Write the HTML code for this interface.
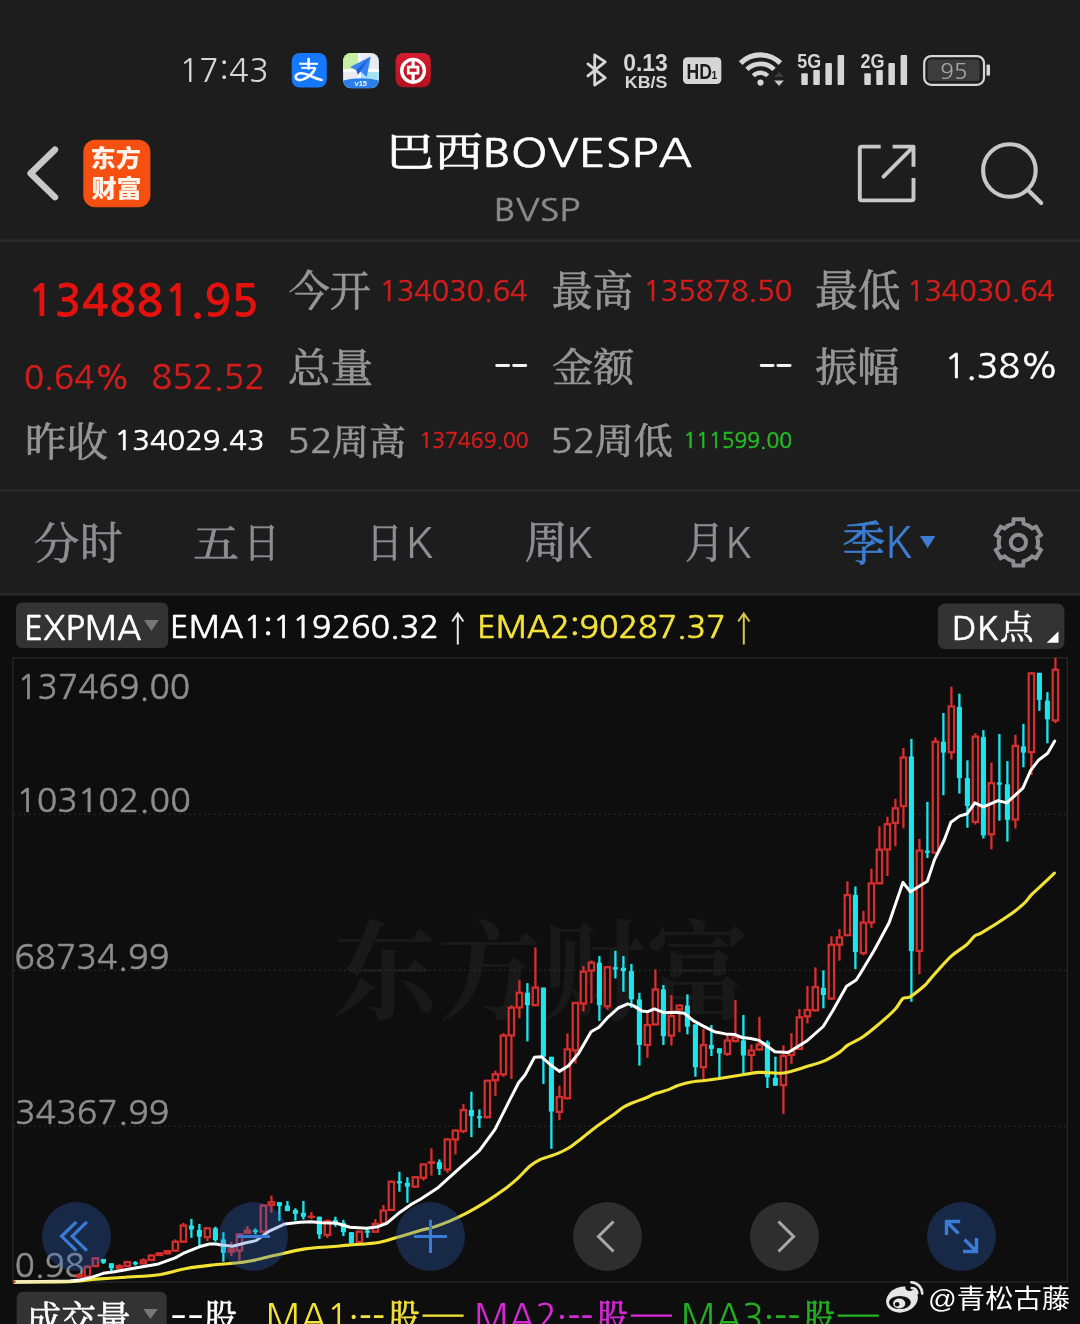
<!DOCTYPE html>
<html><head><meta charset="utf-8"><title>BOVESPA</title>
<style>html,body{margin:0;padding:0;background:#1d1d1d;width:1080px;height:1324px;overflow:hidden}svg{display:block}</style>
</head><body>
<svg width="1080" height="1324" viewBox="0 0 1080 1324">
<rect x="0" y="0" width="1080" height="595" fill="#1d1d1d"/>
<rect x="0" y="595" width="1080" height="729" fill="#0e0e0e"/>
<rect x="0" y="239.5" width="1080" height="2" fill="#2c2c2c"/>
<rect x="0" y="489.5" width="1080" height="2" fill="#2c2c2c"/>
<rect x="0" y="593.5" width="1080" height="2" fill="#2c2c2c"/>
<text transform="matrix(1.0340 0 0 1 179.14 82.18)" font-size="31.82" font-family='"NanumGothic","Liberation Sans",sans-serif' font-weight="400" fill="#d6d6d6">17:43</text>
<rect x="291.75" y="53" width="35" height="34.5" rx="8" fill="#1677ff"/>
<g fill="none" stroke="#f4faff" stroke-linecap="butt"><path d="M299.1 63.8 H318" stroke-width="2.1"/><path d="M308.6 59.1 V68.6" stroke-width="2.7" stroke-linecap="round"/><path d="M301.2 67.9 H315.4" stroke-width="2.0"/><path d="M315 68.6 C313 73 309 77 303 79.4 C298 81.3 294.6 79 296 75.6 C297.6 72.6 303 72.6 307.6 74.6 C312 76.6 316 78.8 321.6 80" stroke-width="2.6" stroke-linecap="round"/></g>
<defs><clipPath id="mapc"><rect x="343.1" y="52.9" width="35.8" height="35.4" rx="8"/></clipPath></defs>
<g clip-path="url(#mapc)"><rect x="343" y="52.9" width="36" height="35.5" fill="#e9ebf2"/><rect x="343" y="52.9" width="14.9" height="16.1" fill="#c6efa2"/><rect x="360.6" y="71.8" width="18.4" height="8" fill="#a6e2f4"/><rect x="357.9" y="52.9" width="2.7" height="30" fill="#fbfdff"/><rect x="343" y="69" width="36" height="2.8" fill="#fbfdff"/><path d="M343 80.5 Q361 76 379 80.5 V89 H343 Z" fill="#2b7fe9"/><path d="M370.7 56.6 L350.1 67.1 L356.4 70.2 L357.9 74.6 L360.6 71.6 L366.8 77.1 Z" fill="#3584f2"/><path d="M370.7 56.6 L356.4 70.2 L357.9 74.6 Z" fill="#1f5fd4"/></g>
<text x="360.8" y="85.9" font-size="7.5" font-family="Liberation Sans" font-weight="700" fill="#eef6ff" text-anchor="middle">v15</text>
<defs><linearGradient id="bg1" x1="0" y1="0" x2="0" y2="1"><stop offset="0" stop-color="#d41e2e"/><stop offset="1" stop-color="#b5101f"/></linearGradient></defs>
<rect x="395.6" y="53" width="35.2" height="34.3" rx="8" fill="url(#bg1)"/>
<circle cx="413.05" cy="70.75" r="11.35" fill="none" stroke="#fff" stroke-width="3.4"/>
<rect x="411.5" y="58" width="3.2" height="25.5" fill="#fff"/>
<rect x="408.25" y="67.05" width="9.7" height="6.1" fill="#c41828" stroke="#fff" stroke-width="2.7"/>
<path d="M587.9 63.9 L605.2 77.8 L594.7 85 V54.8 L605.2 61.9 L587.9 75.9" fill="none" stroke="#d6d6d6" stroke-width="2.8" stroke-linecap="round" stroke-linejoin="round"/>
<text transform="matrix(0.9393 0 0 1 623.18 71.16)" font-size="24.37" font-family='"Liberation Sans","Noto Sans CJK SC",sans-serif' font-weight="700" fill="#d6d6d6">0.13</text>
<text transform="matrix(1.0542 0 0 1 624.85 87.63)" font-size="16.89" font-family='"Liberation Sans","Noto Sans CJK SC",sans-serif' font-weight="700" fill="#d6d6d6">KB/S</text>
<rect x="683" y="57.2" width="38.3" height="26.9" rx="4.5" fill="#d6d6d6"/>
<text transform="matrix(0.7935 0 0 1 686.57 78.60)" font-size="22.17" font-family='"Liberation Sans","Noto Sans CJK SC",sans-serif' font-weight="700" fill="#1d1d1d">HD</text>
<text transform="matrix(0.8809 0 0 1 711.59 78.60)" font-size="11.59" font-family='"Liberation Sans","Noto Sans CJK SC",sans-serif' font-weight="700" fill="#1d1d1d">1</text>
<path d="M740.63 63.13 A28.1 28.1 0 0 1 780.37 63.13" fill="none" stroke="#d6d6d6" stroke-width="5.1"/>
<path d="M746.92 69.42 A19.2 19.2 0 0 1 774.08 69.42" fill="none" stroke="#d6d6d6" stroke-width="4.7"/>
<path d="M753.29 75.79 A10.2 10.2 0 0 1 767.71 75.79" fill="none" stroke="#d6d6d6" stroke-width="4.4"/>
<circle cx="760.5" cy="82.6" r="3.1" fill="#d6d6d6"/>
<path d="M774.2 77 L783.9 77 L779.05 71.9 Z" fill="#3c3c3c"/><path d="M774.2 80.6 L783.9 80.6 L779.05 85.9 Z" fill="#c8c8c8"/>
<text transform="matrix(0.8589 0 0 1 797.26 67.79)" font-size="20.85" font-family='"Liberation Sans","Noto Sans CJK SC",sans-serif' font-weight="700" fill="#d6d6d6">5G</text>
<rect x="801.3" y="73.2" width="6.5" height="11.799999999999997" rx="1" fill="#d6d6d6"/>
<rect x="813.3" y="69.9" width="6.5" height="15.099999999999994" rx="1" fill="#d6d6d6"/>
<rect x="825.4" y="62.9" width="6.5" height="22.1" rx="1" fill="#d6d6d6"/>
<rect x="837.5999999999999" y="55.1" width="6.5" height="29.9" rx="1" fill="#d6d6d6"/>
<text transform="matrix(0.8627 0 0 1 860.46 67.79)" font-size="20.85" font-family='"Liberation Sans","Noto Sans CJK SC",sans-serif' font-weight="700" fill="#d6d6d6">2G</text>
<rect x="864.3" y="73.2" width="6.5" height="11.799999999999997" rx="1" fill="#d6d6d6"/>
<rect x="876.3" y="69.9" width="6.5" height="15.099999999999994" rx="1" fill="#d6d6d6"/>
<rect x="888.4" y="62.9" width="6.5" height="22.1" rx="1" fill="#d6d6d6"/>
<rect x="900.5999999999999" y="55.1" width="6.5" height="29.9" rx="1" fill="#d6d6d6"/>
<rect x="924.2" y="56.1" width="59.8" height="28.7" rx="7" fill="none" stroke="#d6d6d6" stroke-width="2.2"/>
<rect x="927.7" y="59.6" width="51.9" height="21.4" rx="3" fill="#3c3c3c"/>
<rect x="986.5" y="64.4" width="3.5" height="11.3" rx="1.2" fill="#d6d6d6"/>
<text transform="matrix(1.0191 0 0 1 940.35 78.78)" font-size="22.08" font-family='"NanumGothic","Liberation Sans",sans-serif' font-weight="400" fill="#a8a8a8">95</text>
<path d="M55 149.6 L30.6 173.4 L55 197.2" fill="none" stroke="#c8c8c8" stroke-width="6.4" stroke-linecap="round" stroke-linejoin="round"/>
<rect x="83.3" y="139.8" width="67.1" height="67.4" rx="12" fill="#f64f12"/>
<text transform="matrix(1.0811 0 0 1 90.48 167.06)" font-size="23.37" font-family='"Liberation Sans","Noto Sans CJK SC",sans-serif' font-weight="900" fill="#fff4ea">东方</text>
<text transform="matrix(1.0599 0 0 1 91.50 196.63)" font-size="23.71" font-family='"Liberation Sans","Noto Sans CJK SC",sans-serif' font-weight="900" fill="#fff4ea">财富</text>
<text transform="matrix(1.2311 0 0 1 386.11 165.75)" font-size="39.33" font-family='"Liberation Sans","Noto Serif CJK SC",serif' font-weight="400" fill="#ffffff" stroke="#ffffff" stroke-width="0.7" stroke-linejoin="round">巴西</text>
<text transform="matrix(1.1731 0 0 1 482.49 166.60)" font-size="39.87" font-family='"NanumGothic","Liberation Sans",sans-serif' font-weight="400" fill="#ffffff" stroke="#ffffff" stroke-width="0.6">BOVESPA</text>
<text transform="matrix(1.1889 0 0 1 493.75 220.69)" font-size="30.38" font-family='"NanumGothic","Liberation Sans",sans-serif' font-weight="400" fill="#8a8a8a" stroke="#8a8a8a" stroke-width="0.5">BVSP</text>
<g fill="none" stroke="#c8c8c8" stroke-width="3.9" stroke-linejoin="round"><path d="M880.7 146.6 H861.6 Q859.8 146.6 859.8 148.4 V198.6 Q859.8 200.4 861.6 200.4 H911.7 Q913.5 200.4 913.5 198.6 V177.9"/><path d="M892.6 146.6 H913.5 V166.7"/><path d="M883.5 176.6 L912.5 147.6" stroke-linecap="round"/></g>
<circle cx="1009.4" cy="170.5" r="26.3" fill="none" stroke="#c8c8c8" stroke-width="4.1"/>
<path d="M1029.2 191.2 L1041.2 203" stroke="#c8c8c8" stroke-width="4.2" stroke-linecap="round"/>
<text transform="matrix(1.0089 0 0 1 27.36 316.38)" font-size="44.52" font-family='"NanumGothic","Liberation Sans",sans-serif' font-weight="700" fill="#e3120f">134881.95</text>
<text transform="matrix(1.0030 0 0 1 24.01 389.15)" font-size="33.01" font-family='"NanumGothic","Liberation Sans",sans-serif' font-weight="400" fill="#d51c1c" stroke="#d51c1c" stroke-width="0.6">0.64%</text>
<text transform="matrix(1.0077 0 0 1 151.55 389.11)" font-size="33.83" font-family='"NanumGothic","Liberation Sans",sans-serif' font-weight="400" fill="#d51c1c" stroke="#d51c1c" stroke-width="0.6">852.52</text>
<text transform="matrix(1.0558 0 0 1 25.09 455.86)" font-size="39.24" font-family='"Liberation Sans","Noto Serif CJK SC",serif' font-weight="400" fill="#969696" stroke="#969696" stroke-width="0.7" stroke-linejoin="round">昨收</text>
<text transform="matrix(1.0532 0 0 1 114.62 450.42)" font-size="27.65" font-family='"NanumGothic","Liberation Sans",sans-serif' font-weight="400" fill="#ffffff" stroke="#ffffff" stroke-width="0.6">134029.43</text>
<text transform="matrix(0.9789 0 0 1 288.77 306.05)" font-size="41.91" font-family='"Liberation Sans","Noto Serif CJK SC",serif' font-weight="400" fill="#969696" stroke="#969696" stroke-width="0.7" stroke-linejoin="round">今开</text>
<text transform="matrix(1.0216 0 0 1 379.47 300.69)" font-size="28.15" font-family='"NanumGothic","Liberation Sans",sans-serif' font-weight="400" fill="#d51c1c" stroke="#d51c1c" stroke-width="0.6">134030.64</text>
<text transform="matrix(1.0628 0 0 1 287.87 381.59)" font-size="40.11" font-family='"Liberation Sans","Noto Serif CJK SC",serif' font-weight="400" fill="#969696" stroke="#969696" stroke-width="0.7" stroke-linejoin="round">总量</text>
<text transform="matrix(1.0967 0 0 1 287.03 453.46)" font-size="34.42" font-family='"NanumGothic","Liberation Sans",sans-serif' font-weight="400" fill="#969696" stroke="#969696" stroke-width="0.5">52</text>
<text transform="matrix(1.0201 0 0 1 331.92 454.50)" font-size="36.24" font-family='"Liberation Sans","Noto Serif CJK SC",serif' font-weight="400" fill="#969696" stroke="#969696" stroke-width="0.7" stroke-linejoin="round">周高</text>
<text transform="matrix(1.0087 0 0 1 419.54 447.95)" font-size="20.99" font-family='"NanumGothic","Liberation Sans",sans-serif' font-weight="400" fill="#d51c1c" stroke="#d51c1c" stroke-width="0.6">137469.00</text>
<text transform="matrix(0.9615 0 0 1 551.77 306.01)" font-size="42.37" font-family='"Liberation Sans","Noto Serif CJK SC",serif' font-weight="400" fill="#969696" stroke="#969696" stroke-width="0.7" stroke-linejoin="round">最高</text>
<text transform="matrix(1.0293 0 0 1 643.24 300.69)" font-size="28.15" font-family='"NanumGothic","Liberation Sans",sans-serif' font-weight="400" fill="#d51c1c" stroke="#d51c1c" stroke-width="0.6">135878.50</text>
<text transform="matrix(1.0557 0 0 1 552.17 380.89)" font-size="38.82" font-family='"Liberation Sans","Noto Serif CJK SC",serif' font-weight="400" fill="#969696" stroke="#969696" stroke-width="0.7" stroke-linejoin="round">金额</text>
<text transform="matrix(1.0967 0 0 1 549.93 453.46)" font-size="34.42" font-family='"NanumGothic","Liberation Sans",sans-serif' font-weight="400" fill="#969696" stroke="#969696" stroke-width="0.5">52</text>
<text transform="matrix(1.0678 0 0 1 594.74 454.47)" font-size="36.63" font-family='"Liberation Sans","Noto Serif CJK SC",serif' font-weight="400" fill="#969696" stroke="#969696" stroke-width="0.7" stroke-linejoin="round">周低</text>
<text transform="matrix(1.0039 0 0 1 683.55 447.95)" font-size="20.99" font-family='"NanumGothic","Liberation Sans",sans-serif' font-weight="400" fill="#22bb22" stroke="#22bb22" stroke-width="0.6">111599.00</text>
<text transform="matrix(1.0009 0 0 1 814.89 305.97)" font-size="42.83" font-family='"Liberation Sans","Noto Serif CJK SC",serif' font-weight="400" fill="#969696" stroke="#969696" stroke-width="0.7" stroke-linejoin="round">最低</text>
<text transform="matrix(1.0216 0 0 1 906.97 300.69)" font-size="28.15" font-family='"NanumGothic","Liberation Sans",sans-serif' font-weight="400" fill="#d51c1c" stroke="#d51c1c" stroke-width="0.6">134030.64</text>
<text transform="matrix(1.0709 0 0 1 815.34 380.86)" font-size="39.24" font-family='"Liberation Sans","Noto Serif CJK SC",serif' font-weight="400" fill="#969696" stroke="#969696" stroke-width="0.7" stroke-linejoin="round">振幅</text>
<text transform="matrix(1.0345 0 0 1 944.41 377.88)" font-size="34.46" font-family='"NanumGothic","Liberation Sans",sans-serif' font-weight="400" fill="#ffffff" stroke="#ffffff" stroke-width="0.6">1.38%</text>
<rect x="495.3" y="363.9" width="14.7" height="3" rx="1.4" fill="#f4f4f4"/><rect x="512.2" y="363.9" width="15" height="3" rx="1.4" fill="#f4f4f4"/>
<rect x="759.8" y="363.9" width="14.7" height="3" rx="1.4" fill="#f4f4f4"/><rect x="776.5" y="363.9" width="15" height="3" rx="1.4" fill="#f4f4f4"/>
<text transform="matrix(1.0586 0 0 1 33.63 558.76)" font-size="43.01" font-family='"Liberation Sans","Noto Serif CJK SC",serif' font-weight="400" fill="#8e8e92" stroke="#8e8e92" stroke-width="0.7" stroke-linejoin="round">分</text>
<text transform="matrix(0.9713 0 0 1 79.88 558.68)" font-size="43.96" font-family='"Liberation Sans","Noto Serif CJK SC",serif' font-weight="400" fill="#8e8e92" stroke="#8e8e92" stroke-width="0.7" stroke-linejoin="round">时</text>
<text transform="matrix(1.1776 0 0 1 193.06 557.32)" font-size="39.14" font-family='"Liberation Sans","Noto Serif CJK SC",serif' font-weight="400" fill="#8e8e92" stroke="#8e8e92" stroke-width="0.7" stroke-linejoin="round">五</text>
<text transform="matrix(0.8816 0 0 1 243.84 556.56)" font-size="40.59" font-family='"Liberation Sans","Noto Serif CJK SC",serif' font-weight="400" fill="#8e8e92" stroke="#8e8e92" stroke-width="0.7" stroke-linejoin="round">日</text>
<text transform="matrix(0.8816 0 0 1 366.64 556.56)" font-size="40.59" font-family='"Liberation Sans","Noto Serif CJK SC",serif' font-weight="400" fill="#8e8e92" stroke="#8e8e92" stroke-width="0.7" stroke-linejoin="round">日</text>
<text transform="matrix(1.0735 0 0 1 404.97 557.70)" font-size="41.73" font-family='"NanumGothic","Liberation Sans",sans-serif' font-weight="400" fill="#8e8e92">K</text>
<text transform="matrix(0.9510 0 0 1 524.70 558.22)" font-size="44.72" font-family='"Liberation Sans","Noto Serif CJK SC",serif' font-weight="400" fill="#8e8e92" stroke="#8e8e92" stroke-width="0.7" stroke-linejoin="round">周</text>
<text transform="matrix(1.0351 0 0 1 565.45 557.70)" font-size="41.73" font-family='"NanumGothic","Liberation Sans",sans-serif' font-weight="400" fill="#8e8e92">K</text>
<text transform="matrix(0.9053 0 0 1 684.92 558.00)" font-size="43.75" font-family='"Liberation Sans","Noto Serif CJK SC",serif' font-weight="400" fill="#8e8e92" stroke="#8e8e92" stroke-width="0.7" stroke-linejoin="round">月</text>
<text transform="matrix(1.0160 0 0 1 724.84 557.70)" font-size="41.73" font-family='"NanumGothic","Liberation Sans",sans-serif' font-weight="400" fill="#8e8e92">K</text>
<text transform="matrix(0.9168 0 0 1 842.62 559.59)" font-size="46.41" font-family='"Liberation Sans","Noto Serif CJK SC",serif' font-weight="400" fill="#3c7dd2" stroke="#3c7dd2" stroke-width="0.7" stroke-linejoin="round">季</text>
<text transform="matrix(1.0109 0 0 1 884.63 557.80)" font-size="42.93" font-family='"NanumGothic","Liberation Sans",sans-serif' font-weight="400" fill="#3c7dd2">K</text>
<path d="M920 536.1 L935.3 536.1 L927.65 548.3 Z" fill="#3c7dd2"/>
<path d="M1013.16 523.51 L1013.67 519.18 L1023.13 519.18 L1023.64 523.51 A19.6 19.6 0 0 1 1032.14 528.42 L1036.15 526.70 L1040.88 534.88 L1037.38 537.49 A19.6 19.6 0 0 1 1037.38 547.31 L1040.88 549.92 L1036.15 558.10 L1032.14 556.38 A19.6 19.6 0 0 1 1023.64 561.29 L1023.13 565.62 L1013.67 565.62 L1013.16 561.29 A19.6 19.6 0 0 1 1004.66 556.38 L1000.65 558.10 L995.92 549.92 L999.42 547.31 A19.6 19.6 0 0 1 999.42 537.49 L995.92 534.88 L1000.65 526.70 L1004.66 528.42 A19.6 19.6 0 0 1 1013.16 523.51 Z" fill="none" stroke="#8e8e92" stroke-width="4"/>
<circle cx="1018.4" cy="542.4" r="7.6" fill="none" stroke="#8e8e92" stroke-width="4"/>
<rect x="16" y="602.4" width="152.2" height="45.6" rx="6.3" fill="#333333"/>
<text transform="matrix(0.9947 0 0 1 23.96 639.70)" font-size="33.60" font-family='"NanumGothic","Liberation Sans",sans-serif' font-weight="400" fill="#ffffff" stroke="#ffffff" stroke-width="0.6">EXPMA</text>
<path d="M144.1 620 L158.7 620 L151.4 631 Z" fill="#777"/>
<text transform="matrix(1.0630 0 0 1 170.07 637.88)" font-size="30.37" font-family='"NanumGothic","Liberation Sans",sans-serif' font-weight="400" fill="#ffffff" stroke="#ffffff" stroke-width="0.6">EMA1:119260.32</text>
<path d="M457.8 613.5 V644.4 M452.2 621.5 L457.8 613.4 L463.4 621.5" fill="none" stroke="#e8e8e8" stroke-width="2"/>
<text transform="matrix(1.0593 0 0 1 477.18 637.88)" font-size="30.37" font-family='"NanumGothic","Liberation Sans",sans-serif' font-weight="400" fill="#f3e23a" stroke="#f3e23a" stroke-width="0.6">EMA2:90287.37</text>
<path d="M743.8 613.5 V644.4 M738.2 621.5 L743.8 613.4 L749.4 621.5" fill="none" stroke="#d8c850" stroke-width="2"/>
<rect x="937.8" y="603.6" width="126.6" height="45.5" rx="7" fill="#333333"/>
<text transform="matrix(1.0407 0 0 1 951.87 639.70)" font-size="32.93" font-family='"NanumGothic","Liberation Sans",sans-serif' font-weight="400" fill="#ffffff" stroke="#ffffff" stroke-width="0.6">DK</text>
<text transform="matrix(1.0311 0 0 1 999.85 639.48)" font-size="32.72" font-family='"Liberation Sans","Noto Serif CJK SC",serif' font-weight="400" fill="#ffffff" stroke="#ffffff" stroke-width="0.7" stroke-linejoin="round">点</text>
<path d="M1058.5 631.3 L1058.5 642.7 L1046.7 642.7 Z" fill="#ffffff"/>
<rect x="12.9" y="657.9" width="1054.4" height="624.1" fill="none" stroke="#2a2a2a" stroke-width="1.2"/>
<text transform="matrix(0.9625 0 0 1 333.17 1011.38)" font-size="108.23" font-family='"Liberation Sans","Noto Serif CJK SC",serif' font-weight="700" fill="#191919">东方财富</text>
<line x1="14" y1="814.3" x2="1067" y2="814.3" stroke="#363636" stroke-width="1.1" stroke-dasharray="1.6 3.4"/>
<line x1="14" y1="970.2" x2="1067" y2="970.2" stroke="#363636" stroke-width="1.1" stroke-dasharray="1.6 3.4"/>
<line x1="14" y1="1126.3" x2="1067" y2="1126.3" stroke="#363636" stroke-width="1.1" stroke-dasharray="1.6 3.4"/>
<text transform="matrix(1.0039 0 0 1 17.20 698.73)" font-size="33.46" font-family='"NanumGothic","Liberation Sans",sans-serif' font-weight="400" fill="#8c8c8c" stroke="#8c8c8c" stroke-width="0.5">137469.00</text>
<text transform="matrix(1.0314 0 0 1 16.26 811.66)" font-size="32.84" font-family='"NanumGothic","Liberation Sans",sans-serif' font-weight="400" fill="#8c8c8c" stroke="#8c8c8c" stroke-width="0.5">103102.00</text>
<text transform="matrix(1.0280 0 0 1 14.31 968.54)" font-size="33.21" font-family='"NanumGothic","Liberation Sans",sans-serif' font-weight="400" fill="#8c8c8c" stroke="#8c8c8c" stroke-width="0.5">68734.99</text>
<text transform="matrix(1.0275 0 0 1 14.96 1124.45)" font-size="33.09" font-family='"NanumGothic","Liberation Sans",sans-serif' font-weight="400" fill="#8c8c8c" stroke="#8c8c8c" stroke-width="0.5">34367.99</text>
<text transform="matrix(1.0356 0 0 1 14.72 1276.71)" font-size="31.85" font-family='"NanumGothic","Liberation Sans",sans-serif' font-weight="400" fill="#8c8c8c" stroke="#8c8c8c" stroke-width="0.5">0.98</text>
<rect x="1054.25" y="657.8" width="2.3" height="65.3" fill="#d22f2f"/>
<rect x="1052.70" y="669.75" width="5.4" height="50.70" fill="#1c0b0b" stroke="#d22f2f" stroke-width="2.3"/>
<rect x="1046.25" y="692.2" width="2.3" height="51.1" fill="#1ce6ec"/>
<rect x="1044.85" y="700.70" width="5.1" height="18.60" fill="#1ce6ec"/>
<rect x="1038.25" y="672.8" width="2.3" height="38.0" fill="#1ce6ec"/>
<rect x="1036.85" y="672.80" width="5.1" height="27.10" fill="#1ce6ec"/>
<rect x="1030.25" y="672.3" width="2.3" height="102.7" fill="#d22f2f"/>
<rect x="1028.70" y="673.45" width="5.4" height="78.70" fill="#1c0b0b" stroke="#d22f2f" stroke-width="2.3"/>
<rect x="1022.25" y="723.9" width="2.3" height="43.4" fill="#1ce6ec"/>
<rect x="1020.85" y="746.40" width="5.1" height="6.20" fill="#1ce6ec"/>
<rect x="1014.25" y="734.8" width="2.3" height="93.7" fill="#d22f2f"/>
<rect x="1012.70" y="745.95" width="5.4" height="73.60" fill="#1c0b0b" stroke="#d22f2f" stroke-width="2.3"/>
<rect x="1006.25" y="761.1" width="2.3" height="80.5" fill="#1ce6ec"/>
<rect x="1004.85" y="784.30" width="5.1" height="35.60" fill="#1ce6ec"/>
<rect x="998.25" y="734.0" width="2.3" height="86.7" fill="#1ce6ec"/>
<rect x="996.85" y="782.50" width="5.1" height="2.20" fill="#1ce6ec"/>
<rect x="990.25" y="762.6" width="2.3" height="86.8" fill="#d22f2f"/>
<rect x="988.70" y="783.15" width="5.4" height="51.10" fill="#1c0b0b" stroke="#d22f2f" stroke-width="2.3"/>
<rect x="982.25" y="730.1" width="2.3" height="108.4" fill="#1ce6ec"/>
<rect x="980.85" y="737.10" width="5.1" height="98.30" fill="#1ce6ec"/>
<rect x="974.25" y="733.2" width="2.3" height="91.4" fill="#d22f2f"/>
<rect x="972.70" y="736.65" width="5.4" height="85.20" fill="#1c0b0b" stroke="#d22f2f" stroke-width="2.3"/>
<rect x="966.25" y="760.3" width="2.3" height="67.4" fill="#1ce6ec"/>
<rect x="964.85" y="778.10" width="5.1" height="27.90" fill="#1ce6ec"/>
<rect x="958.25" y="693.7" width="2.3" height="99.9" fill="#1ce6ec"/>
<rect x="956.85" y="706.90" width="5.1" height="71.20" fill="#1ce6ec"/>
<rect x="950.25" y="686.7" width="2.3" height="72.8" fill="#d22f2f"/>
<rect x="948.70" y="706.45" width="5.4" height="45.70" fill="#1c0b0b" stroke="#d22f2f" stroke-width="2.3"/>
<rect x="942.25" y="713.0" width="2.3" height="82.2" fill="#1ce6ec"/>
<rect x="940.85" y="741.70" width="5.1" height="10.90" fill="#1ce6ec"/>
<rect x="934.25" y="737.4" width="2.3" height="116.4" fill="#d22f2f"/>
<rect x="932.70" y="741.75" width="5.4" height="110.90" fill="#1c0b0b" stroke="#d22f2f" stroke-width="2.3"/>
<rect x="926.25" y="801.9" width="2.3" height="56.1" fill="#1ce6ec"/>
<rect x="924.85" y="850.60" width="5.1" height="2.20" fill="#1ce6ec"/>
<rect x="918.25" y="839.0" width="2.3" height="135.3" fill="#d22f2f"/>
<rect x="916.70" y="850.65" width="5.4" height="100.30" fill="#1c0b0b" stroke="#d22f2f" stroke-width="2.3"/>
<rect x="910.25" y="738.9" width="2.3" height="262.9" fill="#1ce6ec"/>
<rect x="908.85" y="756.40" width="5.1" height="194.70" fill="#1ce6ec"/>
<rect x="902.25" y="748.0" width="2.3" height="80.4" fill="#d22f2f"/>
<rect x="900.70" y="757.55" width="5.4" height="48.50" fill="#1c0b0b" stroke="#d22f2f" stroke-width="2.3"/>
<rect x="894.25" y="798.8" width="2.3" height="47.6" fill="#d22f2f"/>
<rect x="892.70" y="808.35" width="5.4" height="14.60" fill="#1c0b0b" stroke="#d22f2f" stroke-width="2.3"/>
<rect x="886.25" y="816.7" width="2.3" height="59.3" fill="#d22f2f"/>
<rect x="884.70" y="824.25" width="5.4" height="25.20" fill="#1c0b0b" stroke="#d22f2f" stroke-width="2.3"/>
<rect x="878.25" y="826.3" width="2.3" height="58.1" fill="#d22f2f"/>
<rect x="876.70" y="849.65" width="5.4" height="33.60" fill="#1c0b0b" stroke="#d22f2f" stroke-width="2.3"/>
<rect x="870.25" y="868.6" width="2.3" height="59.2" fill="#d22f2f"/>
<rect x="868.70" y="883.45" width="5.4" height="39.00" fill="#1c0b0b" stroke="#d22f2f" stroke-width="2.3"/>
<rect x="862.25" y="910.9" width="2.3" height="44.4" fill="#d22f2f"/>
<rect x="860.70" y="922.65" width="5.4" height="30.40" fill="#1c0b0b" stroke="#d22f2f" stroke-width="2.3"/>
<rect x="854.25" y="886.5" width="2.3" height="82.6" fill="#1ce6ec"/>
<rect x="852.85" y="895.00" width="5.1" height="57.10" fill="#1ce6ec"/>
<rect x="846.25" y="881.3" width="2.3" height="55.0" fill="#d22f2f"/>
<rect x="844.70" y="895.15" width="5.4" height="40.00" fill="#1c0b0b" stroke="#d22f2f" stroke-width="2.3"/>
<rect x="838.25" y="928.9" width="2.3" height="31.7" fill="#d22f2f"/>
<rect x="836.70" y="937.45" width="5.4" height="7.20" fill="#1c0b0b" stroke="#d22f2f" stroke-width="2.3"/>
<rect x="830.25" y="936.3" width="2.3" height="63.6" fill="#d22f2f"/>
<rect x="828.70" y="944.85" width="5.4" height="53.70" fill="#1c0b0b" stroke="#d22f2f" stroke-width="2.3"/>
<rect x="822.25" y="970.3" width="2.3" height="38.0" fill="#1ce6ec"/>
<rect x="820.85" y="987.80" width="5.1" height="7.20" fill="#1ce6ec"/>
<rect x="814.25" y="967.3" width="2.3" height="44.1" fill="#d22f2f"/>
<rect x="812.70" y="987.15" width="5.4" height="23.10" fill="#1c0b0b" stroke="#d22f2f" stroke-width="2.3"/>
<rect x="806.25" y="986.0" width="2.3" height="37.4" fill="#d22f2f"/>
<rect x="804.70" y="1010.05" width="5.4" height="6.20" fill="#1c0b0b" stroke="#d22f2f" stroke-width="2.3"/>
<rect x="798.25" y="1008.9" width="2.3" height="41.1" fill="#d22f2f"/>
<rect x="796.70" y="1017.35" width="5.4" height="31.50" fill="#1c0b0b" stroke="#d22f2f" stroke-width="2.3"/>
<rect x="790.25" y="1033.1" width="2.3" height="30.8" fill="#d22f2f"/>
<rect x="788.70" y="1051.15" width="5.4" height="3.80" fill="#1c0b0b" stroke="#d22f2f" stroke-width="2.3"/>
<rect x="782.25" y="1045.2" width="2.3" height="68.9" fill="#d22f2f"/>
<rect x="780.70" y="1056.05" width="5.4" height="29.10" fill="#1c0b0b" stroke="#d22f2f" stroke-width="2.3"/>
<rect x="774.25" y="1056.7" width="2.3" height="29.0" fill="#1ce6ec"/>
<rect x="772.85" y="1077.80" width="5.1" height="7.90" fill="#1ce6ec"/>
<rect x="766.25" y="1040.4" width="2.3" height="47.7" fill="#1ce6ec"/>
<rect x="764.85" y="1042.20" width="5.1" height="35.00" fill="#1ce6ec"/>
<rect x="758.25" y="1016.8" width="2.3" height="33.8" fill="#d22f2f"/>
<rect x="756.70" y="1044.55" width="5.4" height="4.90" fill="#1c0b0b" stroke="#d22f2f" stroke-width="2.3"/>
<rect x="750.25" y="1044.6" width="2.3" height="26.6" fill="#d22f2f"/>
<rect x="748.70" y="1050.55" width="5.4" height="4.40" fill="#1c0b0b" stroke="#d22f2f" stroke-width="2.3"/>
<rect x="742.25" y="1015.0" width="2.3" height="58.6" fill="#1ce6ec"/>
<rect x="740.85" y="1040.40" width="5.1" height="15.10" fill="#1ce6ec"/>
<rect x="734.25" y="1000.0" width="2.3" height="42.2" fill="#d22f2f"/>
<rect x="732.70" y="1037.25" width="5.4" height="3.80" fill="#1c0b0b" stroke="#d22f2f" stroke-width="2.3"/>
<rect x="726.25" y="1032.8" width="2.3" height="23.3" fill="#d22f2f"/>
<rect x="724.70" y="1040.55" width="5.4" height="13.30" fill="#1c0b0b" stroke="#d22f2f" stroke-width="2.3"/>
<rect x="718.25" y="1048.3" width="2.3" height="28.9" fill="#1ce6ec"/>
<rect x="716.85" y="1048.30" width="5.1" height="5.00" fill="#1ce6ec"/>
<rect x="710.25" y="1025.0" width="2.3" height="31.1" fill="#1ce6ec"/>
<rect x="708.85" y="1045.00" width="5.1" height="3.90" fill="#1ce6ec"/>
<rect x="702.25" y="1028.9" width="2.3" height="50.0" fill="#d22f2f"/>
<rect x="700.70" y="1045.05" width="5.4" height="22.10" fill="#1c0b0b" stroke="#d22f2f" stroke-width="2.3"/>
<rect x="694.25" y="1024.4" width="2.3" height="52.3" fill="#1ce6ec"/>
<rect x="692.85" y="1024.40" width="5.1" height="42.80" fill="#1ce6ec"/>
<rect x="686.25" y="994.4" width="2.3" height="40.0" fill="#1ce6ec"/>
<rect x="684.85" y="1005.60" width="5.1" height="21.10" fill="#1ce6ec"/>
<rect x="678.25" y="1004.4" width="2.3" height="27.8" fill="#d22f2f"/>
<rect x="676.70" y="1005.55" width="5.4" height="3.90" fill="#1c0b0b" stroke="#d22f2f" stroke-width="2.3"/>
<rect x="670.25" y="995.0" width="2.3" height="50.6" fill="#d22f2f"/>
<rect x="668.70" y="1016.15" width="5.4" height="19.40" fill="#1c0b0b" stroke="#d22f2f" stroke-width="2.3"/>
<rect x="662.25" y="985.0" width="2.3" height="60.0" fill="#1ce6ec"/>
<rect x="660.85" y="989.40" width="5.1" height="46.70" fill="#1ce6ec"/>
<rect x="654.25" y="969.4" width="2.3" height="56.2" fill="#d22f2f"/>
<rect x="652.70" y="989.45" width="5.4" height="35.00" fill="#1c0b0b" stroke="#d22f2f" stroke-width="2.3"/>
<rect x="646.25" y="1013.3" width="2.3" height="44.5" fill="#d22f2f"/>
<rect x="644.70" y="1025.05" width="5.4" height="19.90" fill="#1c0b0b" stroke="#d22f2f" stroke-width="2.3"/>
<rect x="638.25" y="992.8" width="2.3" height="72.8" fill="#1ce6ec"/>
<rect x="636.85" y="999.40" width="5.1" height="45.60" fill="#1ce6ec"/>
<rect x="630.25" y="963.9" width="2.3" height="43.9" fill="#1ce6ec"/>
<rect x="628.85" y="971.10" width="5.1" height="28.30" fill="#1ce6ec"/>
<rect x="622.25" y="956.1" width="2.3" height="35.6" fill="#1ce6ec"/>
<rect x="620.85" y="967.80" width="5.1" height="3.30" fill="#1ce6ec"/>
<rect x="614.25" y="950.8" width="2.3" height="27.7" fill="#1ce6ec"/>
<rect x="612.85" y="967.20" width="5.1" height="2.20" fill="#1ce6ec"/>
<rect x="606.25" y="966.1" width="2.3" height="43.6" fill="#d22f2f"/>
<rect x="604.70" y="967.25" width="5.4" height="39.00" fill="#1c0b0b" stroke="#d22f2f" stroke-width="2.3"/>
<rect x="598.25" y="955.9" width="2.3" height="65.1" fill="#1ce6ec"/>
<rect x="596.85" y="962.70" width="5.1" height="42.50" fill="#1ce6ec"/>
<rect x="590.25" y="960.4" width="2.3" height="43.1" fill="#d22f2f"/>
<rect x="588.70" y="962.65" width="5.4" height="7.90" fill="#1c0b0b" stroke="#d22f2f" stroke-width="2.3"/>
<rect x="582.25" y="966.1" width="2.3" height="45.3" fill="#d22f2f"/>
<rect x="580.70" y="971.75" width="5.4" height="31.70" fill="#1c0b0b" stroke="#d22f2f" stroke-width="2.3"/>
<rect x="574.25" y="1001.8" width="2.3" height="61.7" fill="#d22f2f"/>
<rect x="572.70" y="1002.95" width="5.4" height="47.50" fill="#1c0b0b" stroke="#d22f2f" stroke-width="2.3"/>
<rect x="566.25" y="1033.5" width="2.3" height="65.9" fill="#d22f2f"/>
<rect x="564.70" y="1049.35" width="5.4" height="48.90" fill="#1c0b0b" stroke="#d22f2f" stroke-width="2.3"/>
<rect x="558.25" y="1085.8" width="2.3" height="34.4" fill="#d22f2f"/>
<rect x="556.70" y="1096.95" width="5.4" height="14.90" fill="#1c0b0b" stroke="#d22f2f" stroke-width="2.3"/>
<rect x="550.25" y="1056.8" width="2.3" height="92.0" fill="#1ce6ec"/>
<rect x="548.85" y="1056.80" width="5.1" height="54.80" fill="#1ce6ec"/>
<rect x="542.25" y="987.6" width="2.3" height="96.3" fill="#1ce6ec"/>
<rect x="540.85" y="987.60" width="5.1" height="69.10" fill="#1ce6ec"/>
<rect x="534.25" y="947.4" width="2.3" height="58.9" fill="#d22f2f"/>
<rect x="532.70" y="987.65" width="5.4" height="17.50" fill="#1c0b0b" stroke="#d22f2f" stroke-width="2.3"/>
<rect x="526.25" y="983.1" width="2.3" height="58.3" fill="#1ce6ec"/>
<rect x="524.85" y="992.70" width="5.1" height="12.50" fill="#1ce6ec"/>
<rect x="518.25" y="980.2" width="2.3" height="38.0" fill="#d22f2f"/>
<rect x="516.70" y="992.75" width="5.4" height="14.70" fill="#1c0b0b" stroke="#d22f2f" stroke-width="2.3"/>
<rect x="510.25" y="1005.4" width="2.3" height="73.5" fill="#d22f2f"/>
<rect x="508.70" y="1007.75" width="5.4" height="27.60" fill="#1c0b0b" stroke="#d22f2f" stroke-width="2.3"/>
<rect x="502.25" y="1033.2" width="2.3" height="43.6" fill="#d22f2f"/>
<rect x="500.70" y="1035.55" width="5.4" height="38.80" fill="#1c0b0b" stroke="#d22f2f" stroke-width="2.3"/>
<rect x="494.25" y="1070.6" width="2.3" height="25.3" fill="#d22f2f"/>
<rect x="492.70" y="1074.25" width="5.4" height="6.00" fill="#1c0b0b" stroke="#d22f2f" stroke-width="2.3"/>
<rect x="486.25" y="1079.7" width="2.3" height="38.6" fill="#d22f2f"/>
<rect x="484.70" y="1080.85" width="5.4" height="36.30" fill="#1c0b0b" stroke="#d22f2f" stroke-width="2.3"/>
<rect x="478.25" y="1109.4" width="2.3" height="18.4" fill="#1ce6ec"/>
<rect x="476.85" y="1116.10" width="5.1" height="2.20" fill="#1ce6ec"/>
<rect x="470.25" y="1091.7" width="2.3" height="45.5" fill="#1ce6ec"/>
<rect x="468.85" y="1110.00" width="5.1" height="6.10" fill="#1ce6ec"/>
<rect x="462.25" y="1104.1" width="2.3" height="29.2" fill="#d22f2f"/>
<rect x="460.70" y="1110.05" width="5.4" height="21.00" fill="#1c0b0b" stroke="#d22f2f" stroke-width="2.3"/>
<rect x="454.25" y="1129.4" width="2.3" height="25.0" fill="#d22f2f"/>
<rect x="452.70" y="1130.55" width="5.4" height="8.90" fill="#1c0b0b" stroke="#d22f2f" stroke-width="2.3"/>
<rect x="446.25" y="1138.3" width="2.3" height="34.5" fill="#d22f2f"/>
<rect x="444.70" y="1139.45" width="5.4" height="30.00" fill="#1c0b0b" stroke="#d22f2f" stroke-width="2.3"/>
<rect x="438.25" y="1159.4" width="2.3" height="15.6" fill="#1ce6ec"/>
<rect x="436.85" y="1162.20" width="5.1" height="6.70" fill="#1ce6ec"/>
<rect x="430.25" y="1148.3" width="2.3" height="27.3" fill="#d22f2f"/>
<rect x="427.55" y="1161.10" width="7.7" height="2.80" fill="#d22f2f"/>
<rect x="422.25" y="1163.3" width="2.3" height="17.3" fill="#d22f2f"/>
<rect x="420.70" y="1164.45" width="5.4" height="13.30" fill="#1c0b0b" stroke="#d22f2f" stroke-width="2.3"/>
<rect x="414.25" y="1176.1" width="2.3" height="11.7" fill="#d22f2f"/>
<rect x="412.70" y="1177.25" width="5.4" height="9.40" fill="#1c0b0b" stroke="#d22f2f" stroke-width="2.3"/>
<rect x="406.25" y="1177.2" width="2.3" height="25.6" fill="#1ce6ec"/>
<rect x="404.85" y="1182.80" width="5.1" height="3.90" fill="#1ce6ec"/>
<rect x="398.25" y="1171.7" width="2.3" height="20.0" fill="#1ce6ec"/>
<rect x="396.85" y="1181.10" width="5.1" height="2.20" fill="#1ce6ec"/>
<rect x="390.25" y="1180.6" width="2.3" height="30.5" fill="#d22f2f"/>
<rect x="388.70" y="1181.75" width="5.4" height="28.20" fill="#1c0b0b" stroke="#d22f2f" stroke-width="2.3"/>
<rect x="382.25" y="1205.0" width="2.3" height="19.4" fill="#d22f2f"/>
<rect x="380.70" y="1210.55" width="5.4" height="12.70" fill="#1c0b0b" stroke="#d22f2f" stroke-width="2.3"/>
<rect x="374.25" y="1219.1" width="2.3" height="13.7" fill="#d22f2f"/>
<rect x="372.70" y="1223.95" width="5.4" height="7.70" fill="#1c0b0b" stroke="#d22f2f" stroke-width="2.3"/>
<rect x="366.25" y="1228.9" width="2.3" height="8.9" fill="#1ce6ec"/>
<rect x="364.85" y="1230.60" width="5.1" height="2.20" fill="#1ce6ec"/>
<rect x="358.25" y="1230.6" width="2.3" height="12.6" fill="#d22f2f"/>
<rect x="356.70" y="1231.75" width="5.4" height="10.30" fill="#1c0b0b" stroke="#d22f2f" stroke-width="2.3"/>
<rect x="350.25" y="1232.2" width="2.3" height="11.3" fill="#1ce6ec"/>
<rect x="348.85" y="1232.20" width="5.1" height="11.30" fill="#1ce6ec"/>
<rect x="342.25" y="1219.8" width="2.3" height="16.3" fill="#1ce6ec"/>
<rect x="340.85" y="1222.80" width="5.1" height="9.40" fill="#1ce6ec"/>
<rect x="334.25" y="1216.7" width="2.3" height="10.0" fill="#1ce6ec"/>
<rect x="332.85" y="1220.00" width="5.1" height="2.20" fill="#1ce6ec"/>
<rect x="326.25" y="1219.4" width="2.3" height="18.4" fill="#d22f2f"/>
<rect x="324.70" y="1221.15" width="5.4" height="13.80" fill="#1c0b0b" stroke="#d22f2f" stroke-width="2.3"/>
<rect x="318.25" y="1216.7" width="2.3" height="22.2" fill="#1ce6ec"/>
<rect x="316.85" y="1216.70" width="5.1" height="17.70" fill="#1ce6ec"/>
<rect x="310.25" y="1212.0" width="2.3" height="7.1" fill="#d22f2f"/>
<rect x="307.55" y="1215.60" width="7.7" height="2.30" fill="#d22f2f"/>
<rect x="302.25" y="1200.9" width="2.3" height="18.5" fill="#1ce6ec"/>
<rect x="300.85" y="1212.80" width="5.1" height="3.90" fill="#1ce6ec"/>
<rect x="294.25" y="1208.3" width="2.3" height="12.3" fill="#1ce6ec"/>
<rect x="292.85" y="1210.00" width="5.1" height="3.90" fill="#1ce6ec"/>
<rect x="286.25" y="1201.1" width="2.3" height="10.0" fill="#1ce6ec"/>
<rect x="284.85" y="1205.60" width="5.1" height="5.50" fill="#1ce6ec"/>
<rect x="278.25" y="1202.2" width="2.3" height="18.9" fill="#1ce6ec"/>
<rect x="276.85" y="1202.20" width="5.1" height="3.90" fill="#1ce6ec"/>
<rect x="270.25" y="1195.6" width="2.3" height="17.2" fill="#d22f2f"/>
<rect x="268.70" y="1202.25" width="5.4" height="2.70" fill="#1c0b0b" stroke="#d22f2f" stroke-width="2.3"/>
<rect x="262.25" y="1204.4" width="2.3" height="28.4" fill="#d22f2f"/>
<rect x="260.70" y="1205.55" width="5.4" height="26.10" fill="#1c0b0b" stroke="#d22f2f" stroke-width="2.3"/>
<rect x="254.25" y="1228.3" width="2.3" height="6.1" fill="#1ce6ec"/>
<rect x="252.85" y="1230.00" width="5.1" height="2.20" fill="#1ce6ec"/>
<rect x="246.25" y="1226.1" width="2.3" height="7.8" fill="#d22f2f"/>
<rect x="243.55" y="1229.40" width="7.7" height="4.50" fill="#d22f2f"/>
<rect x="238.25" y="1233.3" width="2.3" height="27.3" fill="#d22f2f"/>
<rect x="236.70" y="1234.45" width="5.4" height="16.10" fill="#1c0b0b" stroke="#d22f2f" stroke-width="2.3"/>
<rect x="230.25" y="1241.7" width="2.3" height="14.4" fill="#d22f2f"/>
<rect x="227.55" y="1248.30" width="7.7" height="4.50" fill="#d22f2f"/>
<rect x="222.25" y="1232.2" width="2.3" height="29.5" fill="#1ce6ec"/>
<rect x="220.85" y="1239.40" width="5.1" height="13.40" fill="#1ce6ec"/>
<rect x="214.25" y="1226.7" width="2.3" height="15.0" fill="#1ce6ec"/>
<rect x="212.85" y="1228.30" width="5.1" height="11.70" fill="#1ce6ec"/>
<rect x="206.25" y="1227.2" width="2.3" height="13.9" fill="#d22f2f"/>
<rect x="204.70" y="1228.35" width="5.4" height="8.80" fill="#1c0b0b" stroke="#d22f2f" stroke-width="2.3"/>
<rect x="198.25" y="1223.9" width="2.3" height="22.0" fill="#1ce6ec"/>
<rect x="196.85" y="1230.00" width="5.1" height="6.70" fill="#1ce6ec"/>
<rect x="190.25" y="1218.9" width="2.3" height="18.9" fill="#1ce6ec"/>
<rect x="188.85" y="1225.60" width="5.1" height="3.80" fill="#1ce6ec"/>
<rect x="182.25" y="1222.8" width="2.3" height="20.0" fill="#d22f2f"/>
<rect x="180.70" y="1225.55" width="5.4" height="16.10" fill="#1c0b0b" stroke="#d22f2f" stroke-width="2.3"/>
<rect x="174.25" y="1239.4" width="2.3" height="12.3" fill="#d22f2f"/>
<rect x="172.70" y="1241.75" width="5.4" height="8.80" fill="#1c0b0b" stroke="#d22f2f" stroke-width="2.3"/>
<rect x="166.25" y="1250.0" width="2.3" height="4.4" fill="#d22f2f"/>
<rect x="163.55" y="1250.00" width="7.7" height="4.40" fill="#d22f2f"/>
<rect x="158.25" y="1252.2" width="2.3" height="3.9" fill="#d22f2f"/>
<rect x="155.55" y="1252.20" width="7.7" height="3.90" fill="#d22f2f"/>
<rect x="150.25" y="1254.4" width="2.3" height="6.7" fill="#d22f2f"/>
<rect x="148.70" y="1255.55" width="5.4" height="4.40" fill="#1c0b0b" stroke="#d22f2f" stroke-width="2.3"/>
<rect x="142.25" y="1258.3" width="2.3" height="6.1" fill="#d22f2f"/>
<rect x="140.70" y="1260.55" width="5.4" height="2.70" fill="#1c0b0b" stroke="#d22f2f" stroke-width="2.3"/>
<rect x="134.25" y="1261.1" width="2.3" height="4.5" fill="#1ce6ec"/>
<rect x="132.85" y="1262.20" width="5.1" height="2.20" fill="#1ce6ec"/>
<rect x="126.25" y="1260.9" width="2.3" height="6.3" fill="#d22f2f"/>
<rect x="124.70" y="1262.05" width="5.4" height="4.00" fill="#1c0b0b" stroke="#d22f2f" stroke-width="2.3"/>
<rect x="118.25" y="1264.2" width="2.3" height="5.2" fill="#d22f2f"/>
<rect x="115.55" y="1265.00" width="7.7" height="4.40" fill="#d22f2f"/>
<rect x="110.25" y="1263.3" width="2.3" height="7.8" fill="#1ce6ec"/>
<rect x="108.85" y="1263.30" width="5.1" height="5.00" fill="#1ce6ec"/>
<rect x="102.25" y="1258.9" width="2.3" height="5.0" fill="#1ce6ec"/>
<rect x="100.85" y="1258.90" width="5.1" height="3.90" fill="#1ce6ec"/>
<rect x="94.25" y="1257.2" width="2.3" height="10.0" fill="#d22f2f"/>
<rect x="92.70" y="1258.35" width="5.4" height="7.70" fill="#1c0b0b" stroke="#d22f2f" stroke-width="2.3"/>
<rect x="86.25" y="1265.6" width="2.3" height="12.2" fill="#d22f2f"/>
<rect x="84.70" y="1266.75" width="5.4" height="9.90" fill="#1c0b0b" stroke="#d22f2f" stroke-width="2.3"/>
<rect x="78.25" y="1273.9" width="2.3" height="3.9" fill="#d22f2f"/>
<rect x="75.55" y="1273.90" width="7.7" height="3.90" fill="#d22f2f"/>
<path d="M14.5 1281.9 C23.8 1281.9 57.0 1282.1 70.0 1281.7 C83.0 1281.3 82.9 1280.2 92.2 1279.4 C101.5 1278.7 114.5 1278.0 125.6 1277.2 C136.7 1276.4 148.8 1276.2 158.9 1274.7 C169.0 1273.2 177.1 1270.2 186.3 1268.5 C195.5 1266.8 205.2 1265.8 214.1 1264.8 C223.0 1263.8 233.7 1263.2 240.0 1262.5 C246.3 1261.8 246.0 1262.0 251.7 1260.8 C257.3 1259.6 265.0 1257.6 273.9 1255.6 C282.8 1253.6 295.6 1250.4 305.0 1248.9 C314.4 1247.4 322.8 1247.4 330.0 1246.8 C337.2 1246.2 342.3 1245.6 348.5 1245.1 C354.7 1244.6 361.6 1244.2 367.0 1243.7 C372.4 1243.2 376.3 1242.8 380.9 1241.9 C385.5 1241.0 390.2 1239.4 394.8 1238.1 C399.4 1236.8 404.1 1235.4 408.7 1234.0 C413.3 1232.6 418.7 1230.9 422.6 1229.8 C426.5 1228.7 427.6 1229.0 431.9 1227.6 C436.2 1226.2 442.6 1224.1 448.5 1221.6 C454.4 1219.1 460.8 1216.0 467.0 1212.8 C473.2 1209.5 479.4 1206.0 485.6 1202.1 C491.8 1198.2 498.7 1193.6 504.1 1189.6 C509.5 1185.6 513.7 1182.0 518.0 1178.1 C522.3 1174.2 526.3 1169.1 530.0 1166.0 C533.7 1162.9 536.8 1161.2 540.0 1159.6 C543.2 1158.0 546.2 1157.5 549.3 1156.4 C552.4 1155.3 555.4 1154.4 558.5 1153.1 C561.6 1151.8 564.7 1150.3 567.8 1148.5 C570.9 1146.7 573.9 1144.3 577.0 1142.0 C580.1 1139.7 583.2 1137.1 586.3 1134.6 C589.4 1132.1 592.5 1129.5 595.6 1127.2 C598.7 1124.9 601.7 1122.9 604.8 1120.7 C607.9 1118.5 611.0 1116.5 614.1 1114.3 C617.2 1112.1 620.2 1109.2 623.3 1107.3 C626.4 1105.4 628.9 1104.2 632.6 1102.7 C636.3 1101.2 641.9 1099.5 645.6 1098.0 C649.3 1096.5 650.9 1095.2 654.8 1093.8 C658.6 1092.4 664.8 1091.0 668.7 1089.6 C672.6 1088.2 674.5 1086.7 678.0 1085.5 C681.5 1084.3 684.9 1083.1 690.0 1082.2 C695.1 1081.3 701.4 1081.0 708.9 1080.0 C716.4 1079.0 726.6 1077.3 735.0 1076.0 C743.4 1074.7 751.2 1072.9 759.2 1072.4 C767.2 1071.9 775.2 1074.0 783.3 1073.0 C791.3 1072.0 800.5 1068.4 807.5 1066.3 C814.5 1064.2 820.2 1062.7 825.6 1060.3 C831.0 1057.9 836.3 1054.4 840.0 1051.9 C843.7 1049.4 844.0 1047.6 847.8 1045.1 C851.6 1042.6 857.5 1040.5 862.7 1037.0 C867.9 1033.5 873.5 1028.7 878.9 1024.1 C884.3 1019.5 891.1 1013.5 895.1 1009.2 C899.1 1004.9 900.4 1000.5 902.9 998.5 C905.4 996.5 906.3 999.1 910.0 996.9 C913.7 994.6 921.9 987.9 925.2 985.0 C928.5 982.1 925.8 984.1 930.0 979.4 C934.2 974.7 944.7 962.4 950.7 956.7 C956.8 951.0 962.3 948.5 966.3 945.0 C970.3 941.5 972.1 937.9 974.7 935.9 C977.3 933.9 976.6 935.8 981.9 932.7 C987.2 929.6 999.6 921.9 1006.5 917.1 C1013.4 912.4 1019.2 907.9 1023.3 904.2 C1027.4 900.5 1028.3 898.0 1031.1 895.1 C1033.9 892.2 1036.3 890.4 1040.2 886.7 C1044.1 883.0 1052.0 875.4 1054.4 873.1" fill="none" stroke="#f2e234" stroke-width="3.1" stroke-linejoin="round" stroke-linecap="round"/>
<path d="M14.5 1281.9 L70.0 1281.0 L80.0 1280.0 L90.0 1277.8 L103.3 1273.3 L114.4 1271.7 L136.7 1267.8 L158.5 1263.9 L175.2 1257.9 L184.4 1252.8 L199.3 1246.8 L209.4 1244.0 L215.9 1244.0 L221.5 1244.9 L232.6 1246.3 L246.1 1242.8 L256.1 1240.6 L268.3 1231.7 L285.0 1223.9 L300.0 1222.2 L311.0 1221.7 L322.2 1222.8 L336.7 1223.3 L350.0 1227.2 L366.7 1228.3 L377.8 1226.7 L386.7 1223.3 L400.0 1212.2 L411.1 1204.4 L420.0 1199.5 L437.2 1188.3 L459.4 1168.3 L479.4 1150.6 L495.0 1129.4 L509.4 1100.6 L518.6 1082.8 L525.0 1075.0 L534.5 1057.3 L541.3 1056.7 L550.3 1064.6 L559.4 1071.4 L568.5 1065.8 L578.7 1053.3 L591.1 1031.8 L599.0 1027.3 L607.0 1018.2 L618.3 1008.0 L627.8 1003.9 L633.3 1005.6 L642.2 1011.1 L647.8 1011.7 L654.4 1008.9 L664.4 1012.8 L675.6 1012.2 L684.4 1013.3 L693.3 1020.6 L703.3 1026.1 L714.4 1031.7 L725.6 1033.9 L734.4 1034.4 L742.0 1037.5 L750.7 1038.5 L759.2 1040.4 L774.9 1051.8 L788.2 1052.4 L807.5 1040.4 L823.2 1026.5 L833.2 1010.0 L846.5 986.2 L856.2 980.0 L861.7 971.2 L874.4 950.0 L889.2 922.5 L903.0 882.3 L910.4 891.8 L927.3 881.3 L934.6 859.4 L944.3 840.0 L950.9 822.3 L959.4 816.1 L967.2 813.7 L974.9 802.9 L983.4 806.8 L998.1 800.6 L1006.7 802.9 L1022.9 788.2 L1030.7 770.4 L1038.4 760.3 L1047.7 753.3 L1054.7 741.0" fill="none" stroke="#ffffff" stroke-width="3" stroke-linejoin="round" stroke-linecap="round"/>
<path d="M14.5 1281.9 L72 1281.6" stroke="#f3ecb0" stroke-width="3" stroke-linecap="round"/>
<rect x="13" y="1280.5" width="2.5" height="2.5" fill="#d03030"/>
<circle cx="76.5" cy="1236.5" r="34.5" fill="rgba(47,107,201,0.30)"/>
<circle cx="253.5" cy="1236.5" r="34.5" fill="rgba(47,107,201,0.30)"/>
<circle cx="430.5" cy="1236.5" r="34.5" fill="rgba(47,107,201,0.30)"/>
<path d="M76.3 1221.9 L61.6 1236.3 L76.3 1250.6 M86.9 1221.9 L72.2 1236.3 L86.9 1250.6" fill="none" stroke="#3a7bd5" stroke-width="3.2"/>
<path d="M237 1236.6 H270" stroke="#3a7bd5" stroke-width="3"/>
<path d="M414 1236.5 H447.1 M430.5 1219.8 V1253" stroke="#3a7bd5" stroke-width="3"/>
<circle cx="607.5" cy="1236.5" r="34.5" fill="#2e2e2e"/>
<circle cx="784.5" cy="1236.5" r="34.5" fill="#2e2e2e"/>
<path d="M613.5 1221.5 L598.5 1236.5 L613.5 1251.5" fill="none" stroke="#a8a8a8" stroke-width="3"/>
<path d="M778.5 1221.5 L793.5 1236.5 L778.5 1251.5" fill="none" stroke="#a8a8a8" stroke-width="3"/>
<circle cx="961.5" cy="1236.5" r="34.5" fill="rgba(47,107,201,0.30)"/>
<g fill="none" stroke="#3a7bd5" stroke-width="3.4"><path d="M960.2 1221.5 H946.5 V1235.1 M946.5 1221.5 L958.5 1233.5"/><path d="M963 1251.5 H976.5 V1238 M976.5 1251.5 L964.5 1239.5"/></g>
<rect x="16.7" y="1291.8" width="150" height="45" rx="6" fill="#333333"/>
<text transform="matrix(0.9152 0 0 1 26.41 1333.00)" font-size="38.00" font-family='"Liberation Sans","Noto Serif CJK SC",serif' font-weight="400" fill="#ffffff" stroke="#ffffff" stroke-width="0.7" stroke-linejoin="round">成交量</text>
<path d="M143.3 1308.9 L157.8 1308.9 L150.5 1318.9 Z" fill="#777"/>
<text transform="matrix(1.2394 0 0 1 169.67 1330.50)" font-size="38.00" font-family='"NanumGothic","Liberation Sans",sans-serif' font-weight="400" fill="#ffffff">--</text>
<text transform="matrix(0.9043 0 0 1 204.50 1330.50)" font-size="36.00" font-family='"Liberation Sans","Noto Serif CJK SC",serif' font-weight="400" fill="#ffffff" stroke="#ffffff" stroke-width="0.7" stroke-linejoin="round">股</text>
<text transform="matrix(0.9472 0 0 1 265.60 1330.50)" font-size="38.00" font-family='"NanumGothic","Liberation Sans",sans-serif' font-weight="400" fill="#f3e23a">MA1·--</text>
<text transform="matrix(0.8629 0 0 1 388.76 1330.50)" font-size="36.00" font-family='"Liberation Sans","Noto Serif CJK SC",serif' font-weight="400" fill="#f3e23a" stroke="#f3e23a" stroke-width="0.7" stroke-linejoin="round">股</text>
<text transform="matrix(0.9472 0 0 1 473.90 1330.50)" font-size="38.00" font-family='"NanumGothic","Liberation Sans",sans-serif' font-weight="400" fill="#d829d8">MA2·--</text>
<text transform="matrix(0.8629 0 0 1 597.06 1330.50)" font-size="36.00" font-family='"Liberation Sans","Noto Serif CJK SC",serif' font-weight="400" fill="#d829d8" stroke="#d829d8" stroke-width="0.7" stroke-linejoin="round">股</text>
<text transform="matrix(0.9472 0 0 1 680.80 1330.50)" font-size="38.00" font-family='"NanumGothic","Liberation Sans",sans-serif' font-weight="400" fill="#22b022">MA3·--</text>
<text transform="matrix(0.8629 0 0 1 803.96 1330.50)" font-size="36.00" font-family='"Liberation Sans","Noto Serif CJK SC",serif' font-weight="400" fill="#22b022" stroke="#22b022" stroke-width="0.7" stroke-linejoin="round">股</text>
<rect x="422.5" y="1314.5" width="41.1" height="2.3" fill="#f3e23a"/>
<rect x="630.8" y="1314.5" width="41.1" height="2.3" fill="#d829d8"/>
<rect x="837.7" y="1314.5" width="41.1" height="2.3" fill="#22b022"/>
<ellipse cx="902" cy="1299.6" rx="16.2" ry="12.6" transform="rotate(-18 902 1299.6)" fill="#e6e6e6"/><ellipse cx="909.6" cy="1287.6" rx="4.2" ry="3.4" fill="#0e0e0e"/><ellipse cx="899.9" cy="1302.5" rx="10.9" ry="6.6" fill="#0e0e0e"/><ellipse cx="899.2" cy="1303.5" rx="6.1" ry="4.9" fill="#e6e6e6"/><circle cx="897.1" cy="1304.2" r="2.3" fill="#0e0e0e"/><path d="M911.8 1288 A6 6 0 0 1 917.3 1293.2" fill="none" stroke="#e6e6e6" stroke-width="2.6" stroke-linecap="round"/><path d="M911.3 1282.2 A11.5 11.5 0 0 1 922.2 1293.6" fill="none" stroke="#e6e6e6" stroke-width="2.6" stroke-linecap="round"/>
<text transform="matrix(1.0876 0 0 1 928.03 1307.61)" font-size="26.08" font-family='"Liberation Sans","Noto Sans CJK SC",sans-serif' font-weight="400" fill="#ffffff"  stroke="#000" stroke-width="0.6" paint-order="stroke">@青松古藤</text>
</svg>
</body></html>
